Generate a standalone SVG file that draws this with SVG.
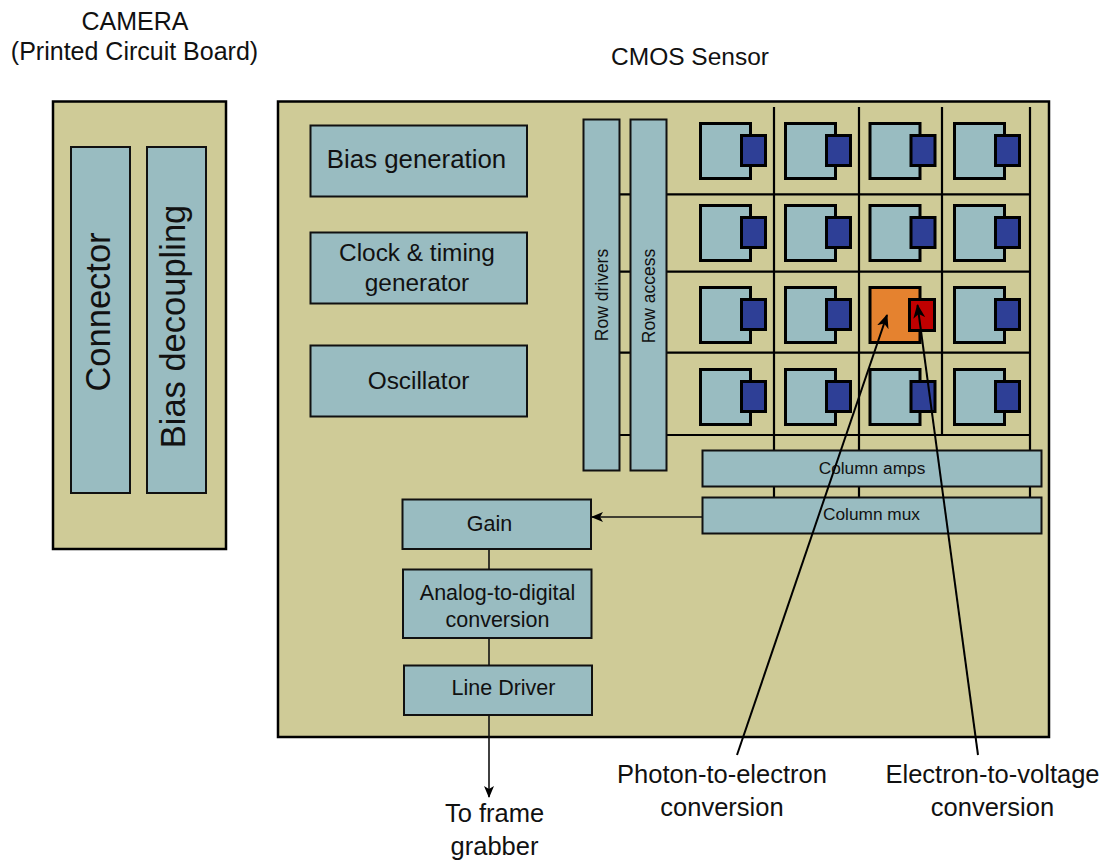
<svg xmlns="http://www.w3.org/2000/svg" width="1113" height="861" viewBox="0 0 1113 861">
<style>
text{font-family:"Liberation Sans",Arial,sans-serif;fill:#111}
.board{fill:#CFCB97;stroke:#000;stroke-width:2.5}
.blk{fill:#99BCC1;stroke:#111;stroke-width:2}
.cell{fill:#99BCC1;stroke:#000;stroke-width:3}
.dot{fill:#2E3F96;stroke:#000;stroke-width:3}
.grid{stroke:#000;stroke-width:2.2;fill:none}
.ln{stroke:#111;stroke-width:1.6;fill:none}
.c{text-anchor:middle}
</style>
<defs>
<marker id="ah" viewBox="0 0 12 10" refX="11" refY="5" markerWidth="12" markerHeight="10" markerUnits="userSpaceOnUse" orient="auto">
<path d="M0,0 L12,5 L0,10 L3,5 z" fill="#000"/>
</marker>
<marker id="ah2" viewBox="0 0 14 12" refX="13" refY="6" markerWidth="14" markerHeight="12" markerUnits="userSpaceOnUse" orient="auto">
<path d="M0,0 L14,6 L0,12 L4,6 z" fill="#000"/>
</marker>
<g id="pix">
<rect class="cell" x="1.5" y="1.5" width="50" height="55"/>
<rect class="dot" x="42.5" y="13.5" width="24" height="30"/>
</g>
</defs>

<text class="c" x="135" y="30" font-size="25">CAMERA</text>
<text class="c" x="134.5" y="60" font-size="25">(Printed Circuit Board)</text>
<text class="c" x="690" y="65" font-size="24.5">CMOS Sensor</text>

<g id="camera">
<rect class="board" x="53" y="101.5" width="173" height="447.5"/>
</g>
<g id="connector">
<rect class="blk" x="71" y="147" width="59" height="346"/>
<text class="c" font-size="34.5" transform="translate(110,312) rotate(-90)">Connector</text>
</g>
<g id="bias-decoupling">
<rect class="blk" x="147" y="147" width="59" height="346"/>
<text class="c" font-size="34.5" transform="translate(185,326.5) rotate(-90)">Bias decoupling</text>
</g>

<g id="sensor">
<rect class="board" x="278" y="101.5" width="771" height="635.5"/>
</g>

<g id="grid">
<path class="grid" d="M774,107 V497 M859,107 V497 M942,107 V435 M1030,107 V497 M619,194.3 H1030 M619,271.7 H1030 M619,352.7 H1030 M619,435 H1030"/>
</g>

<g id="bias-generation">
<rect class="blk" x="310.5" y="125.5" width="216.5" height="71"/>
<text class="c" x="416.5" y="168" font-size="25.8">Bias generation</text>
</g>
<g id="clock">
<rect class="blk" x="310.5" y="232.5" width="216.5" height="71"/>
<text class="c" x="417" y="260.5" font-size="24.4">Clock &amp; timing</text>
<text class="c" x="417" y="291" font-size="24.4">generator</text>
</g>
<g id="oscillator">
<rect class="blk" x="310.5" y="345.5" width="216.5" height="71"/>
<text class="c" x="418.5" y="389" font-size="24.4">Oscillator</text>
</g>

<g id="row-drivers">
<rect class="blk" x="583.5" y="119.5" width="36" height="351"/>
<text class="c" font-size="17.5" transform="translate(607.5,295) rotate(-90)">Row drivers</text>
</g>
<g id="row-access">
<rect class="blk" x="630.5" y="119.5" width="36" height="351"/>
<text class="c" font-size="17.5" transform="translate(654.5,296) rotate(-90)">Row access</text>
</g>

<g id="pixels">
<use href="#pix" x="699" y="122"/><use href="#pix" x="784" y="122"/><use href="#pix" x="868.5" y="122"/><use href="#pix" x="953" y="122"/>
<use href="#pix" x="699" y="204"/><use href="#pix" x="784" y="204"/><use href="#pix" x="868.5" y="204"/><use href="#pix" x="953" y="204"/>
<use href="#pix" x="699" y="286"/><use href="#pix" x="784" y="286"/><use href="#pix" x="953" y="286"/>
<use href="#pix" x="699" y="368"/><use href="#pix" x="784" y="368"/><use href="#pix" x="868.5" y="368"/><use href="#pix" x="953" y="368"/>
</g>
<g id="active-pixel">
<rect x="870" y="287.5" width="50" height="55" fill="#E5822F" stroke="#000" stroke-width="3"/>
<rect x="909.5" y="299.5" width="25" height="31" fill="#C00000" stroke="#000" stroke-width="3"/>
</g>

<g id="column-amps">
<rect class="blk" x="702.5" y="450.5" width="339" height="36"/>
<text class="c" x="872" y="473.5" font-size="17.3">Column amps</text>
</g>
<g id="column-mux">
<rect class="blk" x="702.5" y="497.5" width="339" height="36"/>
<text class="c" x="871.5" y="520" font-size="17.3">Column mux</text>
</g>

<g id="gain">
<rect class="blk" x="402.5" y="499.5" width="188.5" height="49.5"/>
<text class="c" x="489.5" y="531" font-size="21.5">Gain</text>
</g>
<g id="adc">
<rect class="blk" x="403" y="569.5" width="188.5" height="68.5"/>
<text class="c" x="497.5" y="600" font-size="21.5">Analog-to-digital</text>
<text class="c" x="497.5" y="627" font-size="21.5">conversion</text>
</g>
<g id="line-driver">
<rect class="blk" x="404" y="665.5" width="188" height="49.5"/>
<text class="c" x="503.5" y="695" font-size="21.5">Line Driver</text>
</g>

<g id="connectors">
<line class="ln" x1="702" y1="517" x2="592" y2="517" marker-end="url(#ah)"/>
<line class="ln" x1="489" y1="549" x2="489" y2="569"/>
<line class="ln" x1="489" y1="638" x2="489" y2="665"/>
<line class="ln" x1="489" y1="715" x2="489" y2="797" marker-end="url(#ah)"/>
<line x1="737" y1="755" x2="887" y2="315" stroke="#000" stroke-width="2" marker-end="url(#ah2)"/>
<line x1="978" y1="755" x2="917.5" y2="305" stroke="#000" stroke-width="2" marker-end="url(#ah2)"/>
</g>

<text class="c" x="494.5" y="822" font-size="25.5">To frame</text>
<text class="c" x="494.5" y="855" font-size="25.5">grabber</text>
<text class="c" x="722" y="783" font-size="25.5">Photon-to-electron</text>
<text class="c" x="722" y="816" font-size="25.5">conversion</text>
<text class="c" x="992.5" y="783" font-size="25.5">Electron-to-voltage</text>
<text class="c" x="992.5" y="816" font-size="25.5">conversion</text>
</svg>
